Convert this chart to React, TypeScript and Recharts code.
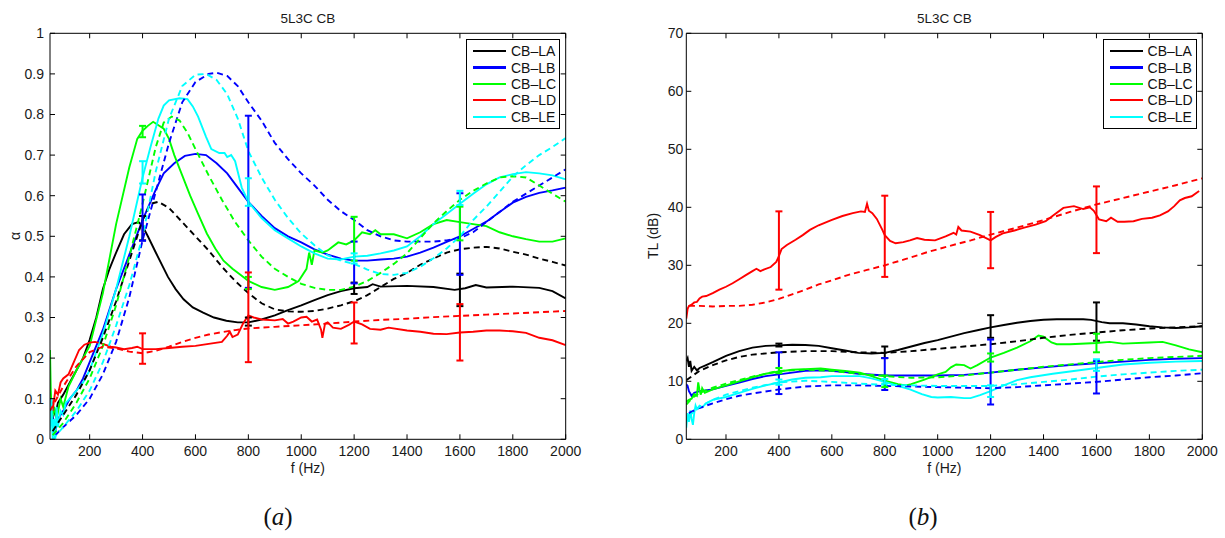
import { ComposedChart, Line, XAxis, YAxis, ErrorBar, Legend, Label } from "recharts";

type Pt = [number, number];

const FONT = '"Liberation Sans", Arial, Helvetica, sans-serif';

const F_TICKS = [200, 400, 600, 800, 1000, 1200, 1400, 1600, 1800, 2000];
const ALPHA_TICKS = [0, 0.1, 0.2, 0.3, 0.4, 0.5, 0.6, 0.7, 0.8, 0.9, 1];
const TL_TICKS = [0, 10, 20, 30, 40, 50, 60, 70];
const BAR_FREQS = [400, 800, 1200, 1600];
const NAMES = ["CB–LA", "CB–LB", "CB–LC", "CB–LD", "CB–LE"];
const COLORS = ["#000000", "#0000ff", "#00ff00", "#ff0000", "#00ffff"];

// ---- (a) absorption coefficient, measured (solid) ----
const laAlphaMeas: Pt[] = [[50,0.05],[60,0.08],[70,0.06],[80,0.09],[100,0.11],[125,0.14],[150,0.17],[175,0.2],[200,0.245],[225,0.3],[250,0.37],[275,0.42],[300,0.46],[330,0.505],[360,0.53],[385,0.535],[400,0.525],[420,0.5],[450,0.46],[496,0.4],[525,0.37],[555,0.345],[590,0.325],[629,0.312],[670,0.3],[717,0.292],[760,0.288],[800,0.288],[850,0.295],[900,0.305],[950,0.318],[1000,0.33],[1050,0.343],[1100,0.355],[1150,0.365],[1200,0.372],[1250,0.375],[1270,0.382],[1300,0.376],[1400,0.378],[1500,0.375],[1580,0.368],[1620,0.372],[1660,0.38],[1700,0.374],[1800,0.376],[1900,0.373],[1950,0.365],[2000,0.347]];
const lbAlphaMeas: Pt[] = [[50,0.03],[60,0.06],[70,0.02],[80,0.05],[100,0.07],[125,0.1],[150,0.12],[175,0.15],[200,0.19],[250,0.27],[300,0.37],[350,0.455],[400,0.54],[450,0.615],[480,0.655],[520,0.68],[560,0.698],[600,0.703],[640,0.7],[680,0.68],[720,0.655],[760,0.62],[800,0.585],[850,0.55],[900,0.52],[950,0.5],[1000,0.485],[1050,0.468],[1100,0.455],[1150,0.445],[1200,0.44],[1250,0.44],[1300,0.443],[1350,0.445],[1400,0.45],[1450,0.46],[1500,0.472],[1550,0.486],[1600,0.5],[1650,0.518],[1700,0.536],[1750,0.56],[1800,0.583],[1850,0.597],[1900,0.607],[1950,0.613],[2000,0.62]];
const lcAlphaMeas: Pt[] = [[50,0.22],[53,0.12],[58,0.05],[65,0.08],[75,0.05],[90,0.1],[100,0.08],[120,0.13],[150,0.17],[175,0.2],[200,0.23],[250,0.36],[300,0.53],[350,0.67],[380,0.74],[400,0.76],[420,0.772],[440,0.782],[480,0.765],[500,0.74],[520,0.7],[550,0.65],[580,0.6],[610,0.555],[643,0.507],[675,0.47],[706,0.44],[740,0.42],[770,0.405],[800,0.39],[850,0.375],[900,0.368],[950,0.375],[990,0.39],[1020,0.42],[1030,0.46],[1040,0.43],[1050,0.465],[1080,0.46],[1100,0.465],[1140,0.485],[1170,0.48],[1200,0.49],[1230,0.51],[1260,0.505],[1280,0.515],[1300,0.505],[1350,0.505],[1400,0.495],[1450,0.51],[1500,0.53],[1550,0.54],[1600,0.535],[1650,0.53],[1700,0.525],[1750,0.51],[1800,0.5],[1850,0.493],[1900,0.487],[1950,0.487],[2000,0.495]];
const ldAlphaMeas: Pt[] = [[50,0.08],[55,0.1],[60,0.07],[70,0.12],[80,0.11],[90,0.14],[100,0.15],[120,0.16],[140,0.19],[160,0.22],[180,0.233],[200,0.238],[220,0.24],[250,0.235],[280,0.228],[300,0.226],[330,0.222],[360,0.225],[380,0.228],[400,0.222],[450,0.222],[500,0.225],[550,0.228],[600,0.23],[650,0.235],[700,0.24],[720,0.255],[730,0.265],[740,0.252],[760,0.258],[780,0.285],[800,0.305],[820,0.3],[850,0.295],[900,0.293],[930,0.296],[950,0.285],[970,0.29],[1000,0.3],[1020,0.302],[1040,0.29],[1060,0.295],[1075,0.27],[1080,0.25],[1090,0.285],[1100,0.288],[1120,0.275],[1150,0.272],[1180,0.282],[1200,0.29],[1230,0.283],[1260,0.272],[1300,0.27],[1330,0.275],[1400,0.268],[1450,0.265],[1500,0.26],[1550,0.259],[1600,0.263],[1650,0.265],[1700,0.268],[1750,0.268],[1800,0.266],[1850,0.262],[1900,0.25],[1950,0.244],[2000,0.232]];
const leAlphaMeas: Pt[] = [[50,0.02],[55,0.1],[60,0.0],[65,0.05],[70,0.0],[75,0.08],[80,0.03],[90,0.07],[100,0.06],[110,0.09],[125,0.1],[150,0.12],[175,0.14],[200,0.17],[250,0.26],[300,0.37],[350,0.5],[400,0.645],[430,0.72],[460,0.79],[480,0.822],[500,0.835],[540,0.84],[570,0.838],[590,0.82],[610,0.795],[640,0.745],[660,0.715],[690,0.705],[710,0.705],[720,0.695],[735,0.7],[750,0.685],[775,0.62],[800,0.585],[850,0.545],[900,0.515],[950,0.495],[1000,0.475],[1050,0.458],[1100,0.445],[1150,0.443],[1200,0.45],[1250,0.452],[1300,0.458],[1350,0.465],[1400,0.475],[1450,0.5],[1500,0.53],[1550,0.555],[1600,0.58],[1650,0.605],[1700,0.628],[1750,0.645],[1800,0.653],[1850,0.658],[1900,0.655],[1950,0.65],[2000,0.64]];

// ---- (a) absorption coefficient, model (dashed) ----
const laAlphaModel: Pt[] = [[60,0.02],[100,0.06],[150,0.11],[200,0.17],[250,0.25],[300,0.34],[350,0.44],[400,0.54],[430,0.58],[460,0.585],[500,0.57],[550,0.535],[600,0.5],[650,0.465],[700,0.425],[750,0.39],[800,0.36],[850,0.335],[900,0.32],[950,0.315],[1000,0.314],[1050,0.316],[1100,0.322],[1150,0.33],[1200,0.34],[1250,0.355],[1300,0.375],[1350,0.395],[1400,0.41],[1450,0.43],[1500,0.445],[1550,0.46],[1600,0.468],[1650,0.472],[1700,0.474],[1750,0.47],[1800,0.462],[1850,0.455],[1900,0.445],[1950,0.437],[2000,0.428]];
const lbAlphaModel: Pt[] = [[70,0.01],[100,0.03],[150,0.06],[200,0.1],[250,0.16],[300,0.24],[350,0.35],[400,0.49],[450,0.61],[500,0.73],[550,0.83],[600,0.88],[650,0.9],[680,0.903],[720,0.895],[760,0.87],[800,0.83],[850,0.785],[900,0.73],[950,0.69],[1000,0.655],[1050,0.625],[1100,0.59],[1150,0.562],[1200,0.54],[1250,0.515],[1300,0.5],[1350,0.49],[1400,0.487],[1450,0.487],[1500,0.487],[1550,0.49],[1600,0.495],[1650,0.51],[1700,0.535],[1750,0.56],[1800,0.585],[1850,0.605],[1900,0.625],[1950,0.645],[2000,0.665]];
const lcAlphaModel: Pt[] = [[60,0.01],[100,0.04],[150,0.09],[200,0.15],[250,0.23],[300,0.33],[350,0.45],[400,0.58],[450,0.72],[480,0.78],[510,0.795],[540,0.785],[570,0.755],[600,0.715],[650,0.65],[700,0.59],[750,0.535],[800,0.49],[850,0.45],[900,0.42],[950,0.4],[1000,0.383],[1050,0.373],[1100,0.368],[1150,0.368],[1200,0.376],[1250,0.39],[1300,0.41],[1350,0.432],[1400,0.458],[1450,0.495],[1500,0.532],[1550,0.562],[1600,0.59],[1650,0.612],[1700,0.63],[1750,0.645],[1800,0.648],[1850,0.645],[1900,0.625],[1950,0.605],[2000,0.585]];
const ldAlphaModel: Pt[] = [[50,0.07],[75,0.1],[100,0.13],[150,0.18],[200,0.215],[250,0.228],[300,0.224],[350,0.216],[400,0.212],[450,0.218],[500,0.228],[550,0.24],[600,0.25],[650,0.258],[700,0.264],[750,0.269],[800,0.273],[900,0.277],[1000,0.281],[1100,0.285],[1200,0.29],[1300,0.294],[1400,0.297],[1500,0.301],[1600,0.304],[1700,0.307],[1800,0.31],[1900,0.313],[2000,0.316]];
const leAlphaModel: Pt[] = [[60,0.0],[100,0.03],[150,0.07],[200,0.12],[250,0.19],[300,0.28],[350,0.38],[400,0.5],[450,0.66],[500,0.79],[550,0.87],[600,0.898],[640,0.9],[680,0.885],[720,0.85],[760,0.79],[800,0.71],[850,0.645],[900,0.59],[950,0.545],[1000,0.507],[1050,0.478],[1100,0.453],[1150,0.44],[1200,0.432],[1250,0.418],[1300,0.407],[1350,0.405],[1400,0.41],[1450,0.425],[1500,0.446],[1550,0.47],[1600,0.5],[1650,0.54],[1700,0.573],[1750,0.61],[1800,0.647],[1850,0.675],[1900,0.7],[1950,0.72],[2000,0.742]];

// ---- (a) error bars at 400/800/1200/1600 Hz ----
const alphaBarLo = [
  [0.49, 0.28, 0.358, 0.328],
  [0.489, 0.373, 0.384, 0.405],
  [0.744, 0.37, 0.44, 0.49],
  [0.186, 0.19, 0.236, 0.194],
  [0.63, 0.575, 0.433, 0.577],
];
const alphaBarHi = [
  [0.55, 0.3, 0.386, 0.408],
  [0.603, 0.797, 0.487, 0.606],
  [0.772, 0.4, 0.548, 0.573],
  [0.261, 0.411, 0.337, 0.333],
  [0.685, 0.643, 0.458, 0.612],
];

// ---- (b) transmission loss, measured (solid) ----
const laTlMeas: Pt[] = [[50,13.5],[55,14],[60,12.5],[65,13.5],[70,11.8],[80,12.5],[90,11.9],[100,12.3],[125,12.8],[150,13.3],[200,14.4],[250,15.2],[300,15.8],[350,16.1],[400,16.2],[450,16.3],[500,16.25],[550,16.1],[600,15.7],[650,15.3],[700,14.9],[750,14.8],[800,14.9],[850,15.4],[900,16.0],[950,16.6],[1000,17.1],[1050,17.7],[1100,18.3],[1150,18.8],[1200,19.3],[1250,19.7],[1300,20.1],[1350,20.4],[1400,20.6],[1450,20.7],[1500,20.7],[1550,20.7],[1580,20.6],[1620,20.2],[1650,20.0],[1700,20.0],[1750,19.8],[1800,19.5],[1850,19.3],[1900,19.2],[1950,19.3],[2000,19.5]];
const lbTlMeas: Pt[] = [[50,9.5],[55,9.2],[60,8.3],[70,7.5],[80,8.0],[100,8.3],[150,8.6],[200,9.2],[250,9.8],[300,10.4],[350,10.9],[400,11.2],[450,11.5],[500,11.8],[571,11.9],[650,11.6],[700,11.3],[800,11.0],[900,11.0],[1000,11.0],[1100,11.1],[1200,11.5],[1300,12.0],[1400,12.4],[1500,12.8],[1600,13.1],[1700,13.4],[1800,13.7],[1900,13.9],[2000,14.0]];
const lcTlMeas: Pt[] = [[50,6.5],[60,6.8],[70,7.0],[80,7.8],[90,7.5],[95,9.8],[100,8.5],[105,7.7],[110,8.8],[120,8.0],[150,8.6],[200,9.3],[250,10.0],[300,10.7],[350,11.3],[400,11.7],[450,12.0],[500,12.1],[558,12.2],[600,12.0],[650,11.8],[706,11.5],[750,10.9],[800,10.1],[850,9.5],[880,9.3],[900,9.5],[950,10.3],[1000,11.2],[1030,11.6],[1050,12.4],[1070,12.9],[1100,12.8],[1124,12.2],[1150,12.8],[1200,14.1],[1250,14.9],[1300,15.8],[1350,16.9],[1381,17.9],[1400,17.7],[1430,16.7],[1450,16.4],[1500,16.4],[1600,16.6],[1650,16.8],[1700,16.5],[1800,16.7],[1850,16.8],[1900,16.2],[1950,15.5],[2000,15.0]];
const ldTlMeas: Pt[] = [[50,20.8],[55,22.5],[60,23.0],[70,23.2],[80,23.6],[90,23.7],[100,24.3],[110,24.6],[125,24.7],[150,25.2],[175,25.8],[200,26.3],[225,26.9],[250,27.6],[275,28.3],[300,29.0],[315,29.4],[330,29.0],[345,29.3],[369,29.7],[390,30.6],[400,31.6],[410,32.8],[430,33.5],[463,34.4],[490,35.2],[517,36.1],[550,36.9],[598,37.8],[640,38.5],[679,39.0],[710,39.3],[725,39.2],[733,40.6],[740,39.4],[753,39.0],[770,38.0],[790,36.2],[800,35.2],[820,34.2],[841,33.8],[870,34.0],[895,34.3],[922,34.7],[950,34.4],[990,34.3],[1030,35.0],[1060,35.6],[1070,35.3],[1078,36.6],[1090,36.0],[1124,35.8],[1160,35.2],[1200,34.3],[1220,34.9],[1246,35.5],[1290,36.0],[1327,36.5],[1370,37.0],[1408,37.6],[1440,38.7],[1475,39.9],[1515,40.2],[1550,39.7],[1575,40.0],[1590,39.4],[1610,37.9],[1637,37.6],[1655,38.2],[1680,37.5],[1705,37.5],[1740,37.6],[1772,38.0],[1810,38.2],[1840,38.6],[1870,39.3],[1894,40.2],[1915,41.2],[1934,41.6],[1960,41.9],[1988,42.8]];
const leTlMeas: Pt[] = [[50,2.0],[55,4.5],[60,3.0],[65,5.0],[70,3.5],[75,2.5],[80,4.5],[85,5.8],[90,5.2],[100,5.8],[110,5.5],[125,6.2],[150,6.8],[200,7.3],[250,8.0],[300,8.7],[350,9.3],[400,9.8],[450,10.3],[500,10.6],[558,10.7],[600,10.9],[706,10.9],[750,10.5],[800,9.9],[850,9.2],[895,8.6],[940,7.8],[976,7.3],[1000,7.2],[1050,7.3],[1100,7.1],[1124,7.1],[1160,7.6],[1200,8.3],[1250,9.3],[1300,10.2],[1350,10.7],[1435,11.3],[1500,11.7],[1600,12.3],[1700,12.9],[1800,13.2],[1900,13.4],[2000,13.5]];

// ---- (b) transmission loss, model (dashed) ----
const laTlModel: Pt[] = [[50,10.2],[75,11],[100,11.8],[150,12.8],[200,13.6],[250,14.2],[300,14.6],[400,15.0],[500,15.2],[600,15.2],[700,15.0],[800,14.9],[900,15.2],[1000,15.6],[1100,16.0],[1200,16.4],[1300,16.9],[1400,17.5],[1500,18.0],[1600,18.4],[1700,18.8],[1800,19.1],[1900,19.3],[2000,19.5]];
const lbTlModel: Pt[] = [[60,4.5],[80,5.0],[100,5.4],[150,6.2],[200,6.9],[250,7.5],[300,7.9],[400,8.6],[500,9.1],[600,9.3],[700,9.3],[800,9.2],[900,9.1],[1000,9.0],[1100,8.9],[1200,8.8],[1300,9.0],[1400,9.3],[1500,9.6],[1600,9.9],[1700,10.3],[1800,10.7],[1900,11.0],[2000,11.4]];
const lcTlModel: Pt[] = [[50,6.0],[75,7.2],[100,8.0],[150,8.9],[200,9.6],[300,10.8],[400,11.8],[500,12.0],[600,11.8],[700,11.3],[800,10.9],[900,10.6],[1000,10.7],[1100,11.0],[1200,11.5],[1300,12.0],[1400,12.5],[1500,12.9],[1600,13.3],[1700,13.7],[1800,14.0],[1900,14.2],[2000,14.4]];
const ldTlModel: Pt[] = [[60,23.0],[100,23.0],[150,22.9],[200,23.0],[250,23.0],[300,23.2],[350,23.6],[400,24.2],[450,25.0],[500,25.8],[550,26.7],[600,27.4],[666,28.4],[733,29.2],[800,30.0],[880,31.1],[963,32.3],[1050,33.4],[1125,34.3],[1200,35.3],[1300,36.5],[1400,37.8],[1500,39.2],[1600,40.5],[1700,41.6],[1800,42.7],[1900,43.8],[2000,45.0]];
const leTlModel: Pt[] = [[60,4.0],[80,4.8],[100,5.6],[150,6.8],[200,7.7],[300,8.9],[400,9.8],[500,10.1],[600,9.9],[700,9.6],[800,9.4],[900,9.3],[1000,9.2],[1100,9.2],[1200,9.2],[1300,9.5],[1400,9.9],[1500,10.3],[1600,10.8],[1700,11.2],[1800,11.5],[1900,11.8],[2000,12.0]];

// ---- (b) error bars ----
const tlBarLo = [
  [16.0, 14.0, 17.5, 17.0],
  [7.8, 8.5, 6.0, 7.9],
  [11.4, 9.0, 13.4, 15.0],
  [25.8, 28.0, 29.5, 32.1],
  [9.4, 9.6, 7.3, 11.8],
];
const tlBarHi = [
  [16.5, 16.0, 21.4, 23.6],
  [15.0, 14.0, 17.2, 13.5],
  [12.3, 11.0, 14.8, 18.2],
  [39.3, 42.0, 39.2, 43.6],
  [10.3, 10.4, 9.3, 13.8],
];

const toPts = (arr: Pt[]) => arr.map(([f, v]) => ({ f, v }));
const toBars = (lo: number[], hi: number[]) =>
  BAR_FREQS.map((f, i) => ({ f, v: (lo[i] + hi[i]) / 2, e: (hi[i] - lo[i]) / 2 }));

const tickStyle = { fontFamily: FONT, fontSize: 14, fill: "#1a1a1a" };

function LegendBox() {
  return (
    <div
      style={{
        width: 92,
        border: "1.5px solid #000",
        background: "#fff",
        padding: "3px 0",
        fontFamily: FONT,
        fontSize: 14,
        color: "#111",
      }}
    >
      {NAMES.map((n, i) => (
        <div key={n} style={{ display: "flex", alignItems: "center", height: 16.4 }}>
          <span style={{ display: "inline-block", marginLeft: 6, width: 33, height: 2.2, background: COLORS[i] }} />
          <span style={{ marginLeft: 5, lineHeight: "16px" }}>{n}</span>
        </div>
      ))}
    </div>
  );
}

type PanelProps = {
  width: number;
  plotLeft: number;
  plotRight: number;
  yTicks: number[];
  yMax: number;
  yLabel: string;
  yLabelX: number;
  tickMargin: number;
  meas: Pt[][];
  model: Pt[][];
  barLo: number[][];
  barHi: number[][];
  legendLeft: number;
};

function Panel(p: PanelProps) {
  const plotTop = 33.3;
  const plotBottom = 439.3;
  const height = 480;
  const midX = (p.plotLeft + p.plotRight) / 2;
  return (
    <ComposedChart
      width={p.width}
      height={height}
      margin={{ top: plotTop - 2, right: p.width - p.plotRight - 2, bottom: height - plotBottom - 34, left: p.plotLeft - 40 }}
    >
      <XAxis
        dataKey="f"
        type="number"
        domain={[50, 2000]}
        ticks={F_TICKS}
        interval={0}
        allowDataOverflow
        height={34}
        tickSize={-5}
        tickMargin={12}
        tick={tickStyle}
        stroke="#000"
      >
        <Label
          content={() => (
            <text x={midX} y={plotBottom + 34} textAnchor="middle" fontFamily={FONT} fontSize={14} fill="#1a1a1a">
              f (Hz)
            </text>
          )}
        />
      </XAxis>
      <XAxis
        xAxisId="top"
        orientation="top"
        dataKey="f"
        type="number"
        domain={[50, 2000]}
        ticks={F_TICKS}
        interval={0}
        allowDataOverflow
        height={2}
        tickSize={-5}
        tickFormatter={() => ""}
        stroke="#000"
      >
        <Label
          content={() => (
            <text x={midX} y={23} textAnchor="middle" fontFamily={FONT} fontSize={13.5} fill="#1a1a1a">
              5L3C CB
            </text>
          )}
        />
      </XAxis>
      <YAxis
        type="number"
        domain={[0, p.yMax]}
        ticks={p.yTicks}
        interval={0}
        allowDataOverflow
        width={40}
        tickSize={-5}
        tickMargin={p.tickMargin}
        tick={tickStyle}
        stroke="#000"
      >
        <Label
          content={() => (
            <text
              x={p.yLabelX}
              y={236}
              textAnchor="middle"
              dominantBaseline="central"
              transform={`rotate(-90, ${p.yLabelX}, 236)`}
              fontFamily={FONT}
              fontSize={14}
              fill="#1a1a1a"
            >
              {p.yLabel}
            </text>
          )}
        />
      </YAxis>
      <YAxis
        yAxisId="right"
        orientation="right"
        type="number"
        domain={[0, p.yMax]}
        ticks={p.yTicks}
        interval={0}
        allowDataOverflow
        width={2}
        tickSize={-5}
        tickFormatter={() => ""}
        stroke="#000"
      />
      <Legend
        layout="vertical"
        align="center"
        verticalAlign="middle"
        wrapperStyle={{ left: p.legendLeft, top: 39, width: 95 }}
        content={() => <LegendBox />}
      />
      {p.meas.map((arr, i) => (
        <Line
          key={`m${i}`}
          data={toPts(arr)}
          dataKey="v"
          type="linear"
          stroke={COLORS[i]}
          strokeWidth={1.9}
          dot={false}
          activeDot={false}
          isAnimationActive={false}
        />
      ))}
      {p.model.map((arr, i) => (
        <Line
          key={`d${i}`}
          data={toPts(arr)}
          dataKey="v"
          type="linear"
          stroke={COLORS[i]}
          strokeWidth={1.9}
          strokeDasharray="6 4"
          dot={false}
          activeDot={false}
          isAnimationActive={false}
        />
      ))}
      {p.barLo.map((lo, i) => (
        <Line
          key={`e${i}`}
          data={toBars(lo, p.barHi[i])}
          dataKey="v"
          stroke="none"
          dot={false}
          activeDot={false}
          isAnimationActive={false}
        >
          <ErrorBar dataKey="e" direction="y" width={3.5} stroke={COLORS[i]} strokeWidth={2} />
        </Line>
      ))}
    </ComposedChart>
  );
}

const captionStyle = {
  position: "absolute" as const,
  top: 503,
  fontFamily: '"Liberation Serif", "DejaVu Serif", serif',
  fontSize: 25,
  color: "#111",
  transform: "translateX(-50%)",
};

export default function App() {
  return (
    <div style={{ position: "absolute", left: 0, top: 0, width: 1225, height: 538, background: "#fff", overflow: "hidden" }}>
      <div style={{ position: "absolute", left: 0, top: 0 }}>
        <Panel
          width={610}
          plotLeft={50}
          plotRight={565.7}
          yTicks={ALPHA_TICKS}
          yMax={1}
          yLabel="α"
          yLabelX={15}
          tickMargin={11}
          meas={[laAlphaMeas, lbAlphaMeas, lcAlphaMeas, ldAlphaMeas, leAlphaMeas]}
          model={[laAlphaModel, lbAlphaModel, lcAlphaModel, ldAlphaModel, leAlphaModel]}
          barLo={alphaBarLo}
          barHi={alphaBarHi}
          legendLeft={466}
        />
      </div>
      <div style={{ position: "absolute", left: 610, top: 0 }}>
        <Panel
          width={615}
          plotLeft={76.3}
          plotRight={592.3}
          yTicks={TL_TICKS}
          yMax={70}
          yLabel="TL (dB)"
          yLabelX={43}
          tickMargin={8}
          meas={[laTlMeas, lbTlMeas, lcTlMeas, ldTlMeas, leTlMeas]}
          model={[laTlModel, lbTlModel, lcTlModel, ldTlModel, leTlModel]}
          barLo={tlBarLo}
          barHi={tlBarHi}
          legendLeft={492.6}
        />
      </div>
      <div style={{ ...captionStyle, left: 278 }}>
        (<i>a</i>)
      </div>
      <div style={{ ...captionStyle, left: 923 }}>
        (<i>b</i>)
      </div>
    </div>
  );
}
